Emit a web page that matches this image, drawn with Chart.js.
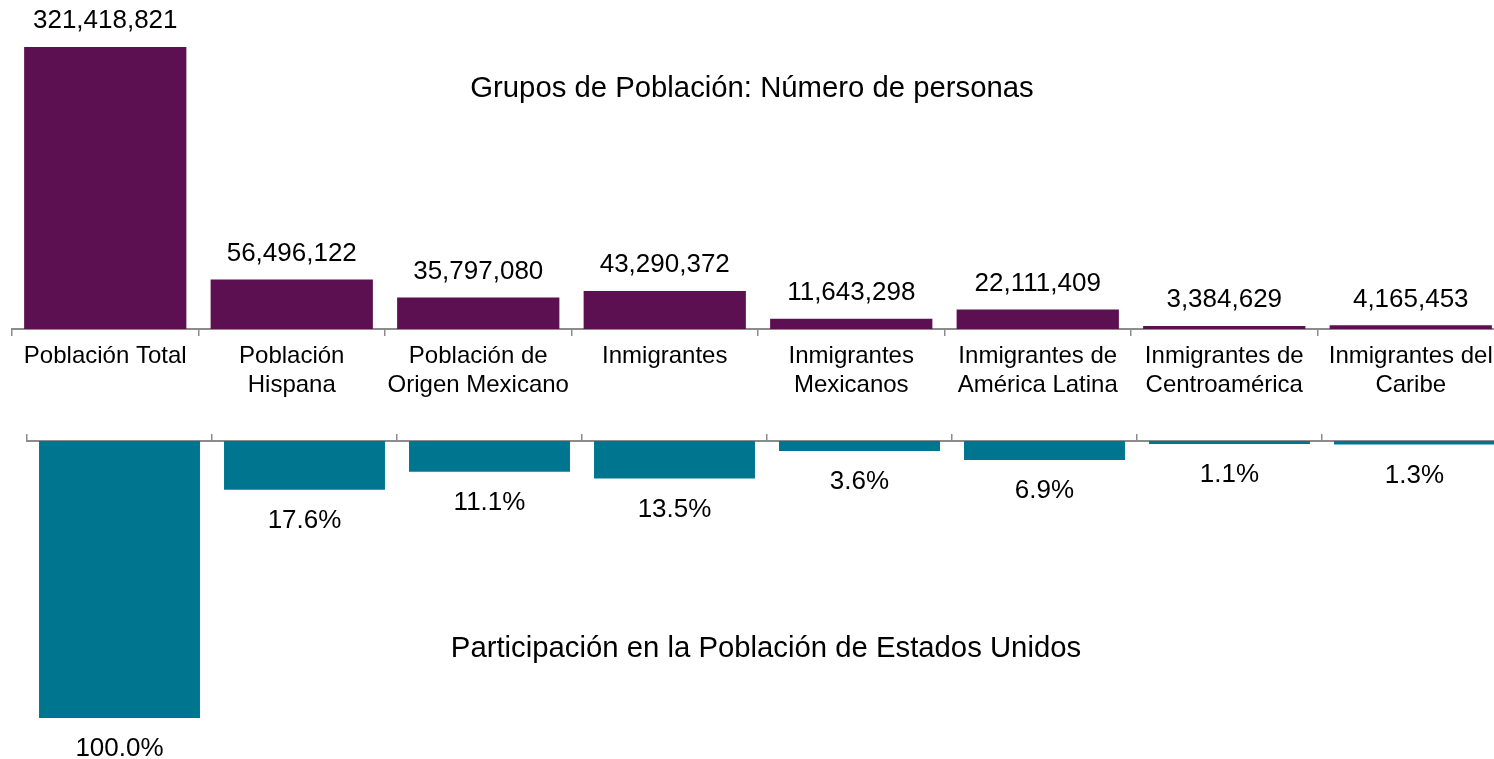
<!DOCTYPE html>
<html lang="es">
<head>
<meta charset="utf-8">
<title>Grupos de Población</title>
<script src="https://cdn.jsdelivr.net/npm/chart.js@4/dist/chart.umd.min.js"></script>
<style>
  html, body { margin: 0; padding: 0; background: #fff; overflow: hidden; width: 1494px; height: 759px; }
  canvas { position: absolute; left: 0; }
  #top { top: 0; }
  #bottom { top: 411px; }
  .title { position: absolute; font-family: 'Liberation Sans', Arial, sans-serif; font-size: 29.3px; line-height: 29px; color: #000; white-space: nowrap; transform: translateX(-50%); }
</style>
</head>
<body>
<canvas id="top" width="1510" height="409"></canvas>
<canvas id="bottom" width="1510" height="348"></canvas>
<div class="title" style="left:752px; top:72px;">Grupos de Población: Número de personas</div>
<div class="title" style="left:766px; top:632px;">Participación en la Población de Estados Unidos</div>
<script>
const categories = [
  ['Población Total'],
  ['Población', 'Hispana'],
  ['Población de', 'Origen Mexicano'],
  ['Inmigrantes'],
  ['Inmigrantes', 'Mexicanos'],
  ['Inmigrantes de', 'América Latina'],
  ['Inmigrantes de', 'Centroamérica'],
  ['Inmigrantes del', 'Caribe']
];
const personas = [321418821, 56496122, 35797080, 43290372, 11643298, 22111409, 3384629, 4165453];
const participacion = [100.0, 17.6, 11.1, 13.5, 3.6, 6.9, 1.1, 1.3];

const FONT = "'Liberation Sans', Arial, sans-serif";
Chart.defaults.font.family = FONT;
Chart.defaults.color = '#000';

const valueLabels = {
  id: 'valueLabels',
  afterDatasetsDraw(chart, args, opts) {
    const ctx = chart.ctx;
    const meta = chart.getDatasetMeta(0);
    const data = chart.data.datasets[0].data;
    ctx.save();
    ctx.font = opts.font;
    ctx.fillStyle = '#000';
    ctx.textAlign = 'center';
    ctx.textBaseline = 'middle';
    meta.data.forEach((bar, i) => {
      ctx.fillText(opts.format(data[i]), bar.x, bar.y + opts.offset);
    });
    ctx.restore();
  }
};

const axisColor = '#8c8c8c';

new Chart(document.getElementById('top'), {
  type: 'bar',
  data: {
    labels: categories,
    datasets: [{
      data: personas,
      backgroundColor: '#5c1052',
      barPercentage: 0.87,
      categoryPercentage: 1.0
    }]
  },
  options: {
    responsive: false,
    animation: false,
    layout: { padding: { left: 12, right: 6, top: 47, bottom: 0 } },
    plugins: {
      legend: { display: false },
      tooltip: { enabled: false },
      valueLabels: {
        font: '26px ' + FONT,
        offset: -26,
        format: v => v.toLocaleString('en-US')
      }
    },
    scales: {
      x: {
        position: 'bottom',
        grid: { offset: true, drawOnChartArea: false, drawTicks: true, tickLength: 7, color: axisColor, lineWidth: 1.5 },
        border: { display: true, color: axisColor, width: 2 },
        ticks: { font: { size: 24, lineHeight: '29px' }, color: '#000', padding: 6, maxRotation: 0, minRotation: 0, autoSkip: false },
        afterFit: s => { s.height = 80; }
      },
      y: { display: false, min: 0, max: 321418821 }
    }
  },
  plugins: [valueLabels]
});

new Chart(document.getElementById('bottom'), {
  type: 'bar',
  data: {
    labels: categories,
    datasets: [{
      data: participacion,
      backgroundColor: '#00758f',
      barPercentage: 0.87,
      categoryPercentage: 1.0
    }]
  },
  options: {
    responsive: false,
    animation: false,
    layout: { padding: { left: 27, right: 3, top: 0, bottom: 41 } },
    plugins: {
      legend: { display: false },
      tooltip: { enabled: false },
      valueLabels: {
        font: '26px ' + FONT,
        offset: 31,
        format: v => v.toFixed(1) + '%'
      }
    },
    scales: {
      x: {
        position: 'top',
        grid: { offset: true, drawOnChartArea: false, drawTicks: true, tickLength: 7, color: axisColor, lineWidth: 1.5 },
        border: { display: true, color: axisColor, width: 2 },
        ticks: { display: false },
        afterFit: s => { s.height = 30; }
      },
      y: { display: false, reverse: true, min: 0, max: 100 }
    }
  },
  plugins: [valueLabels]
});
</script>
</body>
</html>
